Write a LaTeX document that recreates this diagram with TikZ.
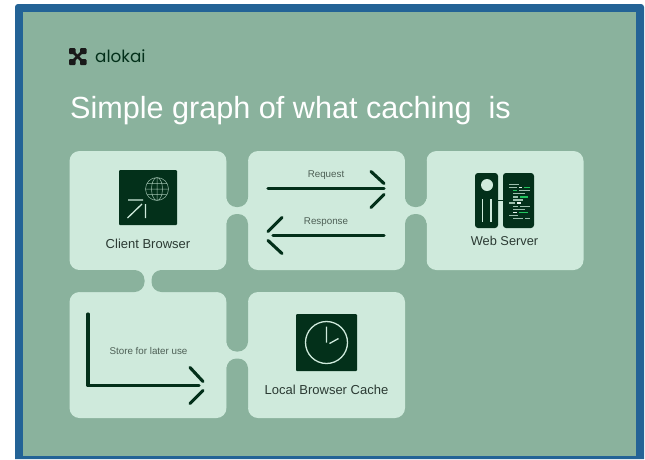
\documentclass[tikz,border=0pt]{standalone}
\usepackage{fontspec}
\setmainfont{Liberation Sans}
\newfontfamily\logofont{Poppins}
\usepackage{xcolor}
\usepackage{tikz}
\usetikzlibrary{positioning,calc}
\definecolor{sage}{HTML}{8AB29D}
\definecolor{mint}{HTML}{CFEADC}
\definecolor{pine}{HTML}{03301A}
\definecolor{framecol}{HTML}{236396}
\definecolor{inktext}{HTML}{2B3A33}
\definecolor{greytext}{HTML}{4D5F55}
\definecolor{codegrey}{HTML}{9DBFAD}
\definecolor{codegreen}{HTML}{22C55E}
\definecolor{codewhite}{HTML}{E6F2EC}
\tikzset{
        card/.style={fill=mint, rounded corners=10pt, inner sep=0pt, outer sep=0pt, minimum width=157pt},
        notch/.style={fill=sage, rounded corners=10pt},
        iconbox/.style={fill=pine, rounded corners=1pt, inner sep=0pt, outer sep=0pt},
        flow/.style={draw=pine, line width=3.1pt, line cap=round},
        cardtext/.style={text=inktext, font=\fontsize{13pt}{15pt}\selectfont, inner sep=0pt},
        smalltext/.style={text=greytext, font=\fontsize{9.8pt}{12pt}\selectfont, inner sep=0pt},
        iconline/.style={draw=mint, line width=1.3pt},
}
\begin{document}
\begin{tikzpicture}[x=1pt,y=-1pt]
        \useasboundingbox (0,0) rectangle (645,459);
        \fill[white] (0,0) rectangle (645,459);
        \fill[framecol] (15,459) [rounded corners=3pt] -- (15,4) -- (644,4) [sharp corners] -- (644,459) -- cycle;
        \fill[sage] (23,12) rectangle (636,456);

        \node[text=pine, font=\logofont\fontsize{16.8pt}{18pt}\selectfont, inner sep=0pt, anchor=west] (brand) at (95,56.5) {alokai};
        \node[text=white, font=\fontsize{30.6pt}{34pt}\selectfont, inner sep=0pt, anchor=west] (title) at (70,111) {Simple graph of what caching\ \ is};

        \node[card, minimum height=119pt] (client) at (148,210.5) {};
        \node[card, minimum height=119pt, right=21.5pt of client] (exchange) {};
        \node[card, minimum height=119pt, right=21.5pt of exchange] (server) {};
        \node[card, minimum height=126pt, below=22pt of client] (store) {};
        \node[card, minimum height=126pt, right=21.5pt of store] (cache) {};

        \foreach \first/\second in {client/exchange, exchange/server, store/cache} {
                \fill[mint] ($(\first.east)+(-1,-12)$) rectangle ($(\second.west)+(1,12)$);
                \fill[notch] (\first.north east) rectangle ($(\second.west)+(0,-3.5)$);
                \fill[notch] ($(\first.east)+(0,3.5)$) rectangle (\second.south west);
        }
        \fill[mint] ($(client.south)+(-12,-1)$) rectangle ($(store.north)+(12,1)$);
        \fill[notch] (client.south west) rectangle ($(store.north)+(-3.5,0)$);
        \fill[notch] ($(client.south)+(3.5,0)$) rectangle (store.north east);

        % logo
        \foreach \lx/\ly in {69/48, 80/48, 69/59, 80/59} {
                \fill[black!90, rounded corners=1pt] (\lx,\ly) rectangle +(6.5,6);
        }
        \draw[black!90, line width=2.8pt] (73,52) -- (82,61) (82,52) -- (73,61);

        % client browser
        \node[iconbox, minimum width=58pt, minimum height=55pt, below=19pt of client.north] (globeIcon) {};
        \node[cardtext, below=13.5pt of globeIcon] (clientLabel) {Client Browser};
        \coordinate (globeMid) at (157,189);
        \draw[draw=codegrey, line width=.5pt] (globeMid) circle (11.5)
                (globeMid) ellipse (5.5 and 11.5)
                ($(globeMid)+(-11.5,0)$) -- ($(globeMid)+(11.5,0)$)
                ($(globeMid)+(0,-11.5)$) -- ($(globeMid)+(0,11.5)$)
                ($(globeMid)+(-10,-5.5)$) -- ($(globeMid)+(10,-5.5)$)
                ($(globeMid)+(-10,5.5)$) -- ($(globeMid)+(10,5.5)$);
        \draw[iconline] (128,200) -- (143,200) (127.5,218) -- (142,204) (145.5,204) -- (145.5,218);

        % request and response
        \node[smalltext] (requestLabel) at (326,175) {Request};
        \node[smalltext] (responseLabel) at (326,222) {Response};
        \coordinate (reqStart) at (268,188.5);
        \coordinate (reqEnd) at (384,188.5);
        \coordinate (respStart) at (384,235.5);
        \coordinate (respEnd) at (273,235.5);
        \draw[flow] (reqStart) -- (reqEnd);
        \draw[flow] ($(reqEnd)+(-13,-17)$) -- ($(reqEnd)+(0,-5)$);
        \draw[flow] ($(reqEnd)+(-13,19)$) -- ($(reqEnd)+(0,6)$);
        \draw[flow] (respStart) -- (respEnd);
        \draw[flow] ($(respEnd)+(9,-18)$) -- ($(respEnd)+(-5,-4)$);
        \draw[flow] ($(respEnd)+(9,18)$) -- ($(respEnd)+(-5,5)$);

        % web server
        \node[iconbox, rounded corners=3pt, minimum width=23pt, minimum height=55pt] (rack) at (486.5,200.5) {};
        \node[iconbox, rounded corners=3pt, minimum width=31pt, minimum height=55pt, right=5pt of rack] (codePanel) {};
        \node[cardtext, font=\fontsize{12.8pt}{15pt}\selectfont, below=8pt of codePanel.south west, xshift=1.5pt] (serverLabel) {Web Server};
        \draw[pine, line width=1.2pt] (rack) -- (codePanel);
        \fill[mint] (487,185) circle (6);
        \draw[draw=mint, line width=1.6pt] (482.5,199) -- (482.5,222) (491,199) -- (491,222);
        \foreach \cy/\cx/\cw/\ccol in {
                183.5/508.5/10/codegrey, 186.5/508.5/8/codegrey, 186.5/518.5/3/codewhite, 186.5/523.5/6/codegreen,
                189.5/512.5/4.5/codegreen, 189.5/518.5/11/codegrey, 192.5/512.5/12/codegrey,
                196/512.5/5.5/codegrey, 196/519.5/8/codegreen, 199/512.5/10/codegrey,
                202/508.5/6.5/codegrey, 202/516.5/4/codewhite, 205.5/512.5/5.5/codegrey, 205.5/519.5/10/codegrey,
                208.5/512.5/12.5/codegrey, 211.5/512.5/4.5/codewhite, 211.5/518.5/9/codegreen,
                214.5/508.5/9/codegrey, 217.5/512.5/10/codegrey, 217.5/524.5/5/codegrey} {
                \fill[\ccol] (\cx,\cy) rectangle +(\cw,1.7);
        }

        % store for later use
        \node[smalltext] (storeLabel) at (148.5,351) {Store for later use};
        \coordinate (storeStart) at (88,314);
        \coordinate (storeEnd) at (199,385.5);
        \draw[flow, line join=round] (storeStart) |- (storeEnd);
        \draw[flow] ($(storeEnd)+(-9,-18)$) -- ($(storeEnd)+(4,-4)$);
        \draw[flow] ($(storeEnd)+(-9,18)$) -- ($(storeEnd)+(4,5)$);

        % local browser cache
        \node[iconbox, minimum width=61pt, minimum height=57pt, below=22pt of cache.north] (clockIcon) {};
        \node[cardtext, below=13.5pt of clockIcon] (cacheLabel) {Local Browser Cache};
        \draw[iconline] (clockIcon.center) circle (21);
        \draw[iconline] ($(clockIcon.center)+(0,-16)$) -- (clockIcon.center)
                ($(clockIcon.center)+(3,1)$) -- ($(clockIcon.center)+(12,-4)$);
\end{tikzpicture}
\end{document}
